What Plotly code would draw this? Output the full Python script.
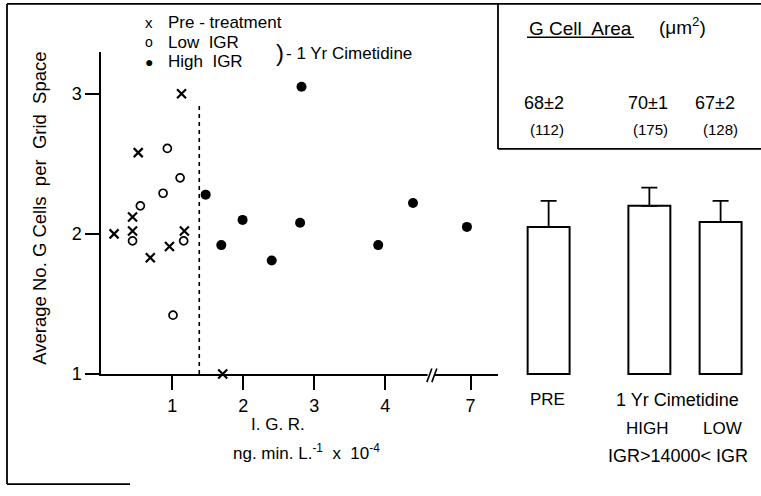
import plotly.graph_objects as go

W, H = 761, 496

# ---- data (IGR in ng.min.L^-1 x 10^-4, y = average no. G cells per grid space)
pre_x = [0.18, 0.44, 0.44, 0.52, 0.69, 0.96, 1.13, 1.17, 1.71]
pre_y = [2.00, 2.12, 2.02, 2.58, 1.83, 1.91, 3.00, 2.02, 1.00]
low_x = [0.44, 0.55, 0.87, 0.93, 1.01, 1.11, 1.16]
low_y = [1.95, 2.20, 2.29, 2.61, 1.42, 2.40, 1.95]
high_x = [1.47, 1.69, 1.99, 2.40, 2.80, 2.82, 3.90, 4.39, 6.95]
high_y = [2.28, 1.92, 2.10, 1.81, 2.08, 3.05, 1.92, 2.22, 2.05]
igr_threshold = 1.38

bar_groups = ["PRE", "HIGH", "LOW"]
bar_pos = [1.8, 5.69, 8.44]
bar_vals = [2.05, 2.20, 2.085]
bar_err = [0.185, 0.13, 0.15]
area_mean = ["68±2", "70±1", "67±2"]
area_n = ["(112)", "(175)", "(128)"]

x_tickvals = [1, 2, 3, 4, 7]
y_tickvals = [1, 2, 3]

BREAK_FROM, BREAK_SHIFT = 4.6, 1.8


def brk(v):
    return v if v < BREAK_FROM else v - BREAK_SHIFT


def px(x):
    return x / W


def py(y):
    return 1 - y / H


FONT = "Liberation Sans"
FS = 17

fig = go.Figure()

fig.add_trace(go.Scatter(
    x=[brk(v) for v in pre_x], y=pre_y, mode="markers", cliponaxis=False,
    marker=dict(symbol="x-thin", size=9, line=dict(width=2.2, color="black"), color="black")))
fig.add_trace(go.Scatter(
    x=[brk(v) for v in low_x], y=low_y, mode="markers", cliponaxis=False,
    marker=dict(symbol="circle-open", size=8, line=dict(width=1.7, color="black"), color="black")))
fig.add_trace(go.Scatter(
    x=[brk(v) for v in high_x], y=high_y, mode="markers", cliponaxis=False,
    marker=dict(symbol="circle", size=10, color="black")))

fig.add_trace(go.Bar(
    x=bar_pos, y=[v - 1 for v in bar_vals], base=1, width=1.62,
    xaxis="x2", yaxis="y2",
    marker=dict(color="white", line=dict(color="black", width=2)),
    error_y=dict(type="data", symmetric=False, array=bar_err, arrayminus=[0, 0, 0],
                 color="black", thickness=1.8, width=8)))

y0_px, ytop_px = 381.7, 52.8
unit = (y0_px - ytop_px) / 2.3
x0_px, xend_px = 101.3, 498

fig.update_layout(
    width=W, height=H, margin=dict(l=0, r=0, t=0, b=0),
    paper_bgcolor="white", plot_bgcolor="rgba(0,0,0,0)",
    showlegend=False,
    font=dict(family=FONT, size=FS, color="black"),
    xaxis=dict(domain=[px(x0_px), px(xend_px)], range=[0, (xend_px - x0_px) / 71],
               showgrid=False, zeroline=False, showline=True, linecolor="black", linewidth=2,
               ticks="outside", ticklen=14, tickwidth=1.6, tickcolor="black",
               tickvals=[brk(v) for v in x_tickvals], ticktext=[str(v) for v in x_tickvals],
               tickfont=dict(size=18), anchor="y"),
    yaxis=dict(domain=[py(y0_px), py(ytop_px)], range=[1, 3.3],
               showgrid=False, zeroline=False, showline=True, linecolor="black", linewidth=2,
               ticks="outside", ticklen=14, tickwidth=1.6, tickcolor="black",
               tickvals=y_tickvals, tickfont=dict(size=18), anchor="x"),
    xaxis2=dict(domain=[px(502), 1], range=[0, 10], visible=False, anchor="y2"),
    yaxis2=dict(domain=[py(y0_px + 0.03 * unit), py(ytop_px)], range=[0.97, 3.3],
                visible=False, anchor="x2"),
)

ann = []


def add_text(x, y, text, size=FS, xanchor="center", textangle=0):
    ann.append(dict(x=px(x), y=py(y), xref="paper", yref="paper", text=text, showarrow=False,
                    xanchor=xanchor, yanchor="middle", textangle=textangle,
                    font=dict(family=FONT, size=size, color="black")))


# legend-like key
add_text(149, 23, "x", 15)
add_text(149, 43, "o", 14)
add_text(149, 63, "●", 14)
add_text(166, 23, "Pre - treatment", xanchor="left")
add_text(166, 43, "Low  IGR", xanchor="left")
add_text(166, 63, "High  IGR", xanchor="left")
add_text(274, 54, ")", 24, xanchor="left")
add_text(284, 55, "- 1 Yr Cimetidine", xanchor="left")

# axis titles
add_text(40, 213, "Average No. G Cells  per  Grid  Space", 18.5, textangle=-90)
add_text(278, 433, "I. G. R.")
add_text(306, 461, "ng. min. L.<sup>-1</sup>  x  10<sup>-4</sup>")

# bar labels
add_text(547, 408, bar_groups[0])
add_text(677, 408, "1 Yr Cimetidine", 18)
add_text(647, 437, bar_groups[1])
add_text(722, 437, bar_groups[2])
add_text(678, 465, "IGR&gt;14000&lt; IGR", 18)

# box contents
add_text(527, 29, "G Cell  Area", 19, xanchor="left")
add_text(682, 27, "(μm<sup>2</sup>)", 19)
for xc, t in zip([544, 648, 715], area_mean):
    add_text(xc, 105, t, 18)
for xc, t in zip([547, 650, 720], area_n):
    add_text(xc, 132, t, 15)

fig.update_layout(annotations=ann)

shapes = []
LW = 1.8
# frame
shapes.append(dict(type="line", xref="paper", yref="paper", x0=px(7), y0=py(4), x1=px(7), y1=py(494),
                   line=dict(color="black", width=LW)))
shapes.append(dict(type="line", xref="paper", yref="paper", x0=px(7), y0=py(4), x1=1, y1=py(4),
                   line=dict(color="black", width=LW)))
shapes.append(dict(type="line", xref="paper", yref="paper", x0=px(7), y0=py(494), x1=px(130), y1=py(494),
                   line=dict(color="black", width=LW)))
# box
shapes.append(dict(type="line", xref="paper", yref="paper", x0=px(498), y0=py(4), x1=px(498), y1=py(152),
                   line=dict(color="black", width=LW)))
shapes.append(dict(type="line", xref="paper", yref="paper", x0=px(498), y0=py(152), x1=1, y1=py(152),
                   line=dict(color="black", width=LW)))
# underline
shapes.append(dict(type="line", xref="paper", yref="paper", x0=px(527), y0=py(38), x1=px(634), y1=py(38),
                   line=dict(color="black", width=1.5)))
# dashed threshold
shapes.append(dict(type="line", xref="x", yref="y", x0=igr_threshold, y0=1, x1=igr_threshold, y1=2.94,
                   line=dict(color="black", width=1.6, dash="4px,4px")))
# axis break
bx = (429 - x0_px) / 71
shapes.append(dict(type="rect", xref="x", yref="paper", x0=bx - 0.02, x1=bx + 0.08,
                   y0=py(384), y1=py(379), fillcolor="white", line=dict(width=0), layer="above"))
for off in (0.0, 0.07):
    shapes.append(dict(type="line", xref="x", yref="paper", x0=bx - 0.03 + off, y0=py(390),
                       x1=bx + 0.04 + off, y1=py(376), line=dict(color="black", width=1.6)))
fig.update_layout(shapes=shapes)

fig.write_html("out.html")
